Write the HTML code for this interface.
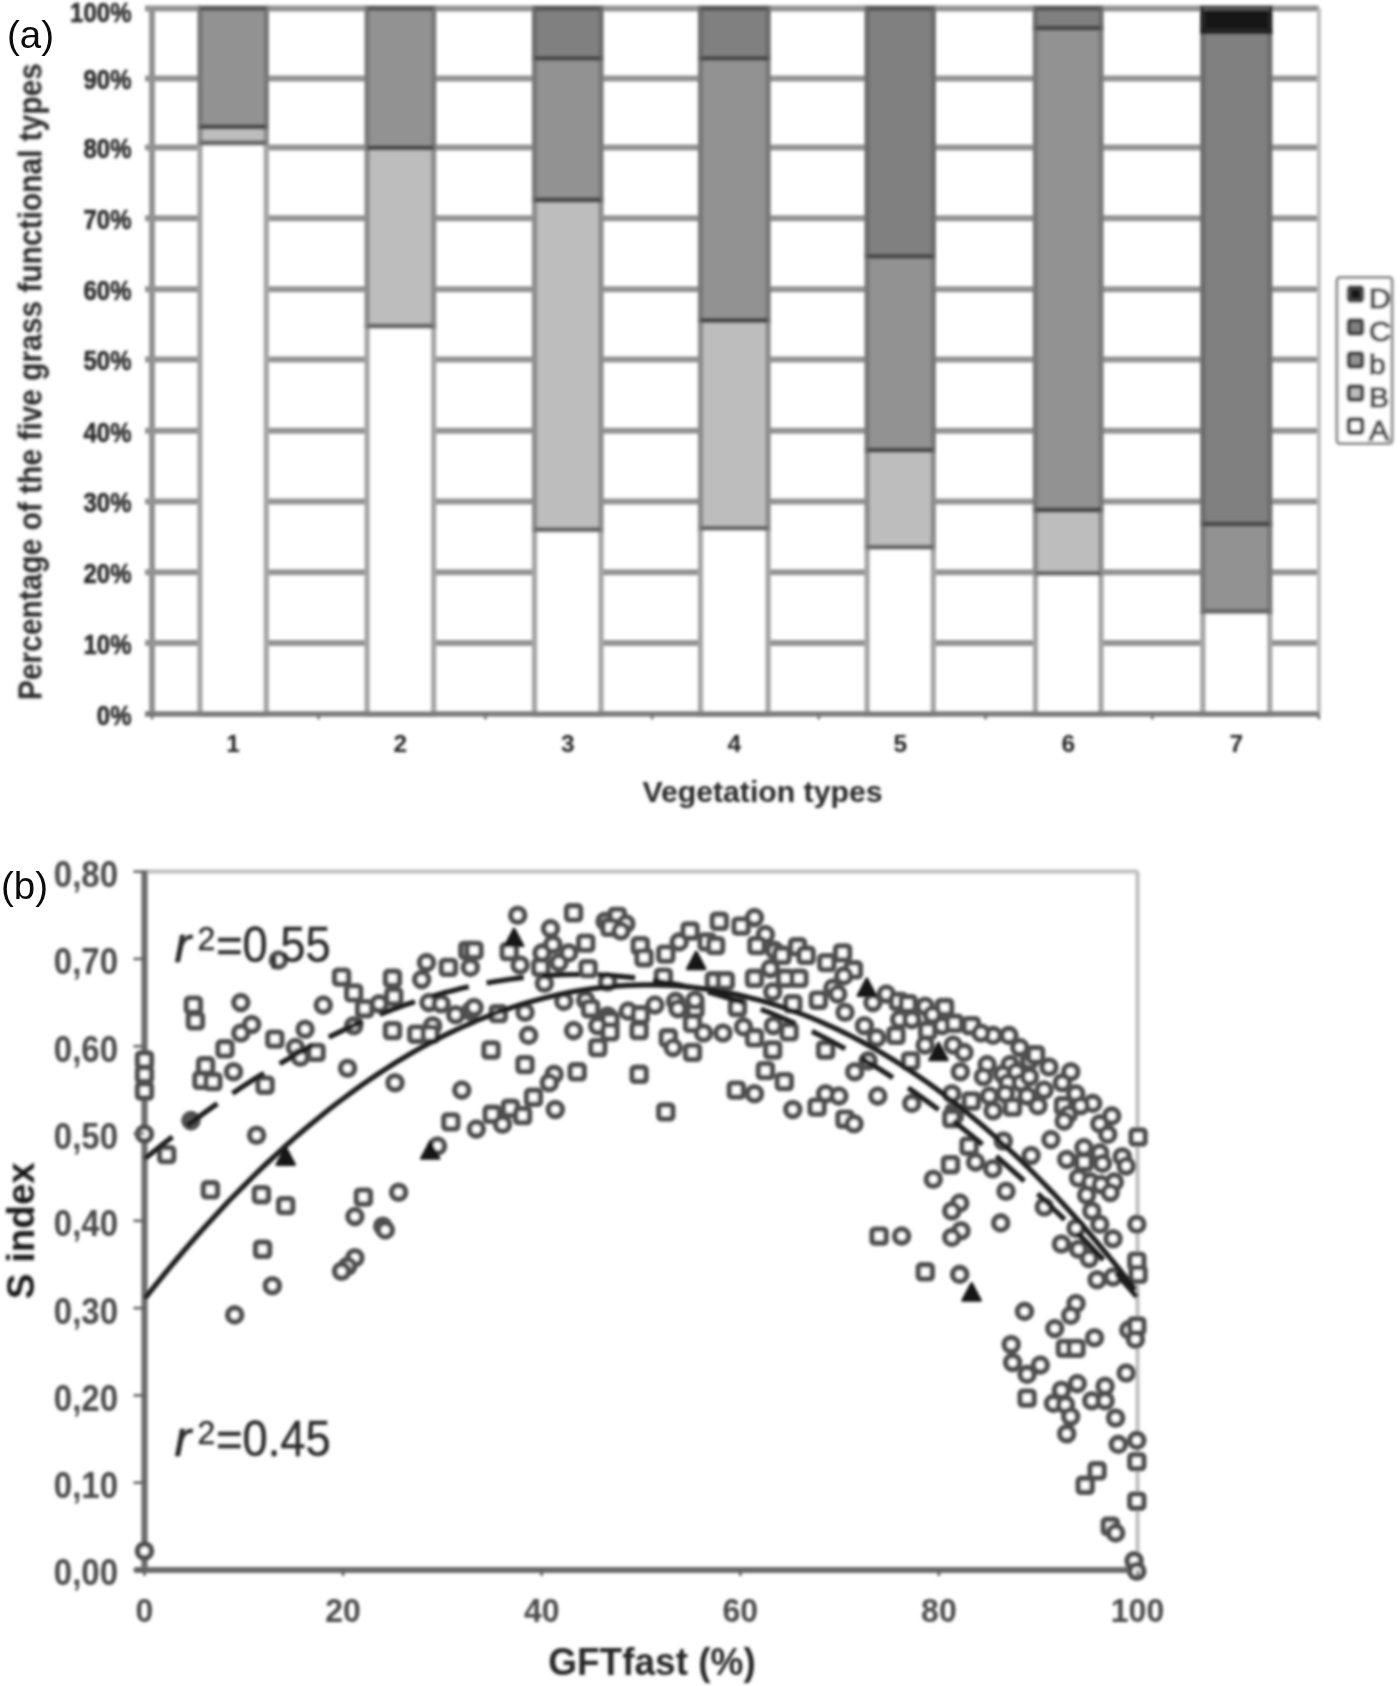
<!DOCTYPE html><html><head><meta charset="utf-8"><style>html,body{margin:0;padding:0;background:#fff;}svg{display:block;}text{font-family:"Liberation Sans",sans-serif;}</style></head><body>
<svg width="1400" height="1686" viewBox="0 0 1400 1686">
<defs><filter id="bl" x="-5%" y="-5%" width="110%" height="110%"><feGaussianBlur stdDeviation="1.6"/></filter></defs>
<rect width="1400" height="1686" fill="#fff"/>
<g filter="url(#bl)">
<line x1="145" y1="643.0" x2="1318.9" y2="643.0" stroke="#939393" stroke-width="6"/>
<line x1="145" y1="572.3" x2="1318.9" y2="572.3" stroke="#939393" stroke-width="6"/>
<line x1="145" y1="501.4" x2="1318.9" y2="501.4" stroke="#939393" stroke-width="6"/>
<line x1="145" y1="430.8" x2="1318.9" y2="430.8" stroke="#939393" stroke-width="6"/>
<line x1="145" y1="359.6" x2="1318.9" y2="359.6" stroke="#939393" stroke-width="6"/>
<line x1="145" y1="289.3" x2="1318.9" y2="289.3" stroke="#939393" stroke-width="6"/>
<line x1="145" y1="218.2" x2="1318.9" y2="218.2" stroke="#939393" stroke-width="6"/>
<line x1="145" y1="147.6" x2="1318.9" y2="147.6" stroke="#939393" stroke-width="6"/>
<line x1="145" y1="78.6" x2="1318.9" y2="78.6" stroke="#939393" stroke-width="6"/>
<line x1="145" y1="8.5" x2="1318.9" y2="8.5" stroke="#939393" stroke-width="6"/>
<line x1="1318.9" y1="8.5" x2="1318.9" y2="714.0" stroke="#bdbdbd" stroke-width="4"/>
<line x1="152" y1="7.5" x2="152" y2="714.0" stroke="#939393" stroke-width="6"/>
<rect x="200.1" y="142.9" width="66.1" height="571.1" fill="#ffffff" stroke="#a6a6a6" stroke-width="5.5"/>
<rect x="200.1" y="126.7" width="66.1" height="16.2" fill="#bdbdbd" stroke="#8e8e8e" stroke-width="5.5"/>
<rect x="200.1" y="8.5" width="66.1" height="118.2" fill="#929292" stroke="#7a7a7a" stroke-width="5.5"/>
<line x1="200.1" y1="142.9" x2="266.2" y2="142.9" stroke="#6a6a6a" stroke-width="4.6"/>
<line x1="200.1" y1="126.7" x2="266.2" y2="126.7" stroke="#4c4c4c" stroke-width="4.6"/>
<line x1="200.1" y1="8.5" x2="266.2" y2="8.5" stroke="#555" stroke-width="3.8"/>
<rect x="367.2" y="326.0" width="66.4" height="388.0" fill="#ffffff" stroke="#a6a6a6" stroke-width="5.5"/>
<rect x="367.2" y="147.8" width="66.4" height="178.2" fill="#bdbdbd" stroke="#8e8e8e" stroke-width="5.5"/>
<rect x="367.2" y="8.5" width="66.4" height="139.3" fill="#929292" stroke="#7a7a7a" stroke-width="5.5"/>
<line x1="367.2" y1="326.0" x2="433.6" y2="326.0" stroke="#6a6a6a" stroke-width="4.6"/>
<line x1="367.2" y1="147.8" x2="433.6" y2="147.8" stroke="#4c4c4c" stroke-width="4.6"/>
<line x1="367.2" y1="8.5" x2="433.6" y2="8.5" stroke="#555" stroke-width="3.8"/>
<rect x="534.6" y="529.6" width="66.3" height="184.4" fill="#ffffff" stroke="#a6a6a6" stroke-width="5.5"/>
<rect x="534.6" y="199.9" width="66.3" height="329.7" fill="#bdbdbd" stroke="#8e8e8e" stroke-width="5.5"/>
<rect x="534.6" y="58.3" width="66.3" height="141.6" fill="#929292" stroke="#7a7a7a" stroke-width="5.5"/>
<rect x="534.6" y="8.5" width="66.3" height="49.8" fill="#808080" stroke="#6e6e6e" stroke-width="5.5"/>
<line x1="534.6" y1="529.6" x2="600.9" y2="529.6" stroke="#6a6a6a" stroke-width="4.6"/>
<line x1="534.6" y1="199.9" x2="600.9" y2="199.9" stroke="#4c4c4c" stroke-width="4.6"/>
<line x1="534.6" y1="58.3" x2="600.9" y2="58.3" stroke="#4c4c4c" stroke-width="4.6"/>
<line x1="534.6" y1="8.5" x2="600.9" y2="8.5" stroke="#555" stroke-width="3.8"/>
<rect x="700.6" y="528.2" width="67.4" height="185.8" fill="#ffffff" stroke="#a6a6a6" stroke-width="5.5"/>
<rect x="700.6" y="320.4" width="67.4" height="207.8" fill="#bdbdbd" stroke="#8e8e8e" stroke-width="5.5"/>
<rect x="700.6" y="58.3" width="67.4" height="262.1" fill="#929292" stroke="#7a7a7a" stroke-width="5.5"/>
<rect x="700.6" y="8.5" width="67.4" height="49.8" fill="#808080" stroke="#6e6e6e" stroke-width="5.5"/>
<line x1="700.6" y1="528.2" x2="768.0" y2="528.2" stroke="#6a6a6a" stroke-width="4.6"/>
<line x1="700.6" y1="320.4" x2="768.0" y2="320.4" stroke="#4c4c4c" stroke-width="4.6"/>
<line x1="700.6" y1="58.3" x2="768.0" y2="58.3" stroke="#4c4c4c" stroke-width="4.6"/>
<line x1="700.6" y1="8.5" x2="768.0" y2="8.5" stroke="#555" stroke-width="3.8"/>
<rect x="867.2" y="547.2" width="66.0" height="166.8" fill="#ffffff" stroke="#a6a6a6" stroke-width="5.5"/>
<rect x="867.2" y="450.0" width="66.0" height="97.2" fill="#bdbdbd" stroke="#8e8e8e" stroke-width="5.5"/>
<rect x="867.2" y="256.3" width="66.0" height="193.7" fill="#929292" stroke="#7a7a7a" stroke-width="5.5"/>
<rect x="867.2" y="8.5" width="66.0" height="247.8" fill="#808080" stroke="#6e6e6e" stroke-width="5.5"/>
<line x1="867.2" y1="547.2" x2="933.2" y2="547.2" stroke="#6a6a6a" stroke-width="4.6"/>
<line x1="867.2" y1="450.0" x2="933.2" y2="450.0" stroke="#4c4c4c" stroke-width="4.6"/>
<line x1="867.2" y1="256.3" x2="933.2" y2="256.3" stroke="#4c4c4c" stroke-width="4.6"/>
<line x1="867.2" y1="8.5" x2="933.2" y2="8.5" stroke="#555" stroke-width="3.8"/>
<rect x="1035.5" y="573.3" width="65.4" height="140.7" fill="#ffffff" stroke="#a6a6a6" stroke-width="5.5"/>
<rect x="1035.5" y="509.9" width="65.4" height="63.4" fill="#bdbdbd" stroke="#8e8e8e" stroke-width="5.5"/>
<rect x="1035.5" y="28.0" width="65.4" height="481.9" fill="#929292" stroke="#7a7a7a" stroke-width="5.5"/>
<rect x="1035.5" y="8.5" width="65.4" height="19.5" fill="#808080" stroke="#6e6e6e" stroke-width="5.5"/>
<line x1="1035.5" y1="573.3" x2="1100.9" y2="573.3" stroke="#6a6a6a" stroke-width="4.6"/>
<line x1="1035.5" y1="509.9" x2="1100.9" y2="509.9" stroke="#4c4c4c" stroke-width="4.6"/>
<line x1="1035.5" y1="28.0" x2="1100.9" y2="28.0" stroke="#4c4c4c" stroke-width="4.6"/>
<line x1="1035.5" y1="8.5" x2="1100.9" y2="8.5" stroke="#555" stroke-width="3.8"/>
<rect x="1202.9" y="611.3" width="66.8" height="102.7" fill="#ffffff" stroke="#a6a6a6" stroke-width="5.5"/>
<rect x="1202.9" y="524.0" width="66.8" height="87.4" fill="#929292" stroke="#7a7a7a" stroke-width="5.5"/>
<rect x="1202.9" y="31.5" width="66.8" height="492.4" fill="#808080" stroke="#6e6e6e" stroke-width="5.5"/>
<rect x="1202.9" y="8.5" width="66.8" height="23.0" fill="#181818" stroke="#222" stroke-width="5.5"/>
<line x1="1202.9" y1="611.3" x2="1269.7" y2="611.3" stroke="#6a6a6a" stroke-width="4.6"/>
<line x1="1202.9" y1="524.0" x2="1269.7" y2="524.0" stroke="#4c4c4c" stroke-width="4.6"/>
<line x1="1202.9" y1="8.5" x2="1269.7" y2="8.5" stroke="#555" stroke-width="3.8"/>
<line x1="145" y1="714.0" x2="1318.9" y2="714.0" stroke="#7a7a7a" stroke-width="5.5"/>
<line x1="152.0" y1="714.0" x2="152.0" y2="719.5" stroke="#707070" stroke-width="2.5"/>
<line x1="318.7" y1="714.0" x2="318.7" y2="719.5" stroke="#707070" stroke-width="2.5"/>
<line x1="485.4" y1="714.0" x2="485.4" y2="719.5" stroke="#707070" stroke-width="2.5"/>
<line x1="652.1" y1="714.0" x2="652.1" y2="719.5" stroke="#707070" stroke-width="2.5"/>
<line x1="818.8" y1="714.0" x2="818.8" y2="719.5" stroke="#707070" stroke-width="2.5"/>
<line x1="985.5" y1="714.0" x2="985.5" y2="719.5" stroke="#707070" stroke-width="2.5"/>
<line x1="1152.2" y1="714.0" x2="1152.2" y2="719.5" stroke="#707070" stroke-width="2.5"/>
<line x1="1318.9" y1="714.0" x2="1318.9" y2="719.5" stroke="#707070" stroke-width="2.5"/>
<text x="131.5" y="724.7" font-size="27" font-weight="bold" text-anchor="end" fill="#2a2a2a" textLength="34.7" lengthAdjust="spacingAndGlyphs" stroke="#2a2a2a" stroke-width="0.6">0%</text>
<text x="131.5" y="653.7" font-size="27" font-weight="bold" text-anchor="end" fill="#2a2a2a" textLength="48.0" lengthAdjust="spacingAndGlyphs" stroke="#2a2a2a" stroke-width="0.6">10%</text>
<text x="131.5" y="583.0" font-size="27" font-weight="bold" text-anchor="end" fill="#2a2a2a" textLength="48.0" lengthAdjust="spacingAndGlyphs" stroke="#2a2a2a" stroke-width="0.6">20%</text>
<text x="131.5" y="512.1" font-size="27" font-weight="bold" text-anchor="end" fill="#2a2a2a" textLength="48.0" lengthAdjust="spacingAndGlyphs" stroke="#2a2a2a" stroke-width="0.6">30%</text>
<text x="131.5" y="441.5" font-size="27" font-weight="bold" text-anchor="end" fill="#2a2a2a" textLength="48.0" lengthAdjust="spacingAndGlyphs" stroke="#2a2a2a" stroke-width="0.6">40%</text>
<text x="131.5" y="370.3" font-size="27" font-weight="bold" text-anchor="end" fill="#2a2a2a" textLength="48.0" lengthAdjust="spacingAndGlyphs" stroke="#2a2a2a" stroke-width="0.6">50%</text>
<text x="131.5" y="300.0" font-size="27" font-weight="bold" text-anchor="end" fill="#2a2a2a" textLength="48.0" lengthAdjust="spacingAndGlyphs" stroke="#2a2a2a" stroke-width="0.6">60%</text>
<text x="131.5" y="228.9" font-size="27" font-weight="bold" text-anchor="end" fill="#2a2a2a" textLength="48.0" lengthAdjust="spacingAndGlyphs" stroke="#2a2a2a" stroke-width="0.6">70%</text>
<text x="131.5" y="158.3" font-size="27" font-weight="bold" text-anchor="end" fill="#2a2a2a" textLength="48.0" lengthAdjust="spacingAndGlyphs" stroke="#2a2a2a" stroke-width="0.6">80%</text>
<text x="131.5" y="89.3" font-size="27" font-weight="bold" text-anchor="end" fill="#2a2a2a" textLength="48.0" lengthAdjust="spacingAndGlyphs" stroke="#2a2a2a" stroke-width="0.6">90%</text>
<text x="131.5" y="21.5" font-size="27" font-weight="bold" text-anchor="end" fill="#2a2a2a" textLength="61.4" lengthAdjust="spacingAndGlyphs" stroke="#2a2a2a" stroke-width="0.6">100%</text>
<text x="233.1" y="751.5" font-size="24.5" font-weight="bold" text-anchor="middle" fill="#222">1</text>
<text x="400.4" y="751.5" font-size="24.5" font-weight="bold" text-anchor="middle" fill="#222">2</text>
<text x="567.8" y="751.5" font-size="24.5" font-weight="bold" text-anchor="middle" fill="#222">3</text>
<text x="734.3" y="751.5" font-size="24.5" font-weight="bold" text-anchor="middle" fill="#222">4</text>
<text x="900.2" y="751.5" font-size="24.5" font-weight="bold" text-anchor="middle" fill="#222">5</text>
<text x="1068.2" y="751.5" font-size="24.5" font-weight="bold" text-anchor="middle" fill="#222">6</text>
<text x="1236.3" y="751.5" font-size="24.5" font-weight="bold" text-anchor="middle" fill="#222">7</text>
<text x="762.5" y="801.5" font-size="30" font-weight="bold" text-anchor="middle" fill="#262626" textLength="240.0" lengthAdjust="spacingAndGlyphs">Vegetation types</text>
<text transform="translate(41.5,381.6) rotate(-90)" x="0" y="0" font-size="33" font-weight="bold" text-anchor="middle" fill="#262626" textLength="637" lengthAdjust="spacingAndGlyphs">Percentage of the five grass functional types</text>
<rect x="1337" y="277.5" width="55" height="166" rx="3" fill="#fff" stroke="#8a8a8a" stroke-width="3"/>
<rect x="1348.8" y="287.3" width="13.4" height="13.4" rx="2" fill="#181818" stroke="#464646" stroke-width="4.4"/>
<text x="1369.0" y="307.5" font-size="28" fill="#505050" textLength="21.7" lengthAdjust="spacingAndGlyphs" stroke="#505050" stroke-width="1.5">D</text>
<rect x="1348.8" y="320.3" width="13.4" height="13.4" rx="2" fill="#808080" stroke="#464646" stroke-width="4.4"/>
<text x="1369.0" y="340.5" font-size="28" fill="#505050" textLength="21.7" lengthAdjust="spacingAndGlyphs" stroke="#505050" stroke-width="1.5">C</text>
<rect x="1348.8" y="353.3" width="13.4" height="13.4" rx="2" fill="#929292" stroke="#464646" stroke-width="4.4"/>
<text x="1369.0" y="373.5" font-size="28" fill="#505050" textLength="16.7" lengthAdjust="spacingAndGlyphs" stroke="#505050" stroke-width="1.5">b</text>
<rect x="1348.8" y="386.3" width="13.4" height="13.4" rx="2" fill="#bdbdbd" stroke="#464646" stroke-width="4.4"/>
<text x="1369.0" y="406.5" font-size="28" fill="#505050" textLength="20.0" lengthAdjust="spacingAndGlyphs" stroke="#505050" stroke-width="1.5">B</text>
<rect x="1348.8" y="419.3" width="13.4" height="13.4" rx="2" fill="#ffffff" stroke="#464646" stroke-width="4.4"/>
<text x="1369.0" y="439.5" font-size="28" fill="#505050" textLength="20.0" lengthAdjust="spacingAndGlyphs" stroke="#505050" stroke-width="1.5">A</text>
<line x1="144.5" y1="871.6" x2="1137.5" y2="871.6" stroke="#bdbdbd" stroke-width="4"/>
<line x1="1137.5" y1="871.6" x2="1137.5" y2="1570" stroke="#bdbdbd" stroke-width="4"/>
<line x1="144.5" y1="870.6" x2="144.5" y2="1570" stroke="#6a6a6a" stroke-width="6.2"/>
<line x1="134.5" y1="1570" x2="1137.5" y2="1570" stroke="#6a6a6a" stroke-width="6.2"/>
<circle cx="278.4" cy="960.1" r="6.9" fill="#fff" stroke="#505050" stroke-width="5.8"/>
<rect x="186.5" y="998.2" width="13.8" height="13.8" rx="2.5" fill="#fff" stroke="#505050" stroke-width="5.6"/>
<rect x="188.5" y="1013.9" width="13.8" height="13.8" rx="2.5" fill="#fff" stroke="#505050" stroke-width="5.6"/>
<circle cx="240.8" cy="1002.6" r="6.9" fill="#fff" stroke="#505050" stroke-width="5.8"/>
<circle cx="251.7" cy="1024.5" r="6.9" fill="#fff" stroke="#505050" stroke-width="5.8"/>
<circle cx="240.8" cy="1033.0" r="6.9" fill="#fff" stroke="#505050" stroke-width="5.8"/>
<rect x="218.1" y="1041.8999999999999" width="13.8" height="13.8" rx="2.5" fill="#fff" stroke="#505050" stroke-width="5.6"/>
<rect x="198.7" y="1058.8999999999999" width="13.8" height="13.8" rx="2.5" fill="#fff" stroke="#505050" stroke-width="5.6"/>
<rect x="195.0" y="1073.3999999999999" width="13.8" height="13.8" rx="2.5" fill="#fff" stroke="#505050" stroke-width="5.6"/>
<rect x="206.0" y="1074.6999999999998" width="13.8" height="13.8" rx="2.5" fill="#fff" stroke="#505050" stroke-width="5.6"/>
<circle cx="233.5" cy="1071.8" r="6.9" fill="#fff" stroke="#505050" stroke-width="5.8"/>
<rect x="258.20000000000005" y="1078.3" width="13.8" height="13.8" rx="2.5" fill="#fff" stroke="#505050" stroke-width="5.6"/>
<rect x="267.90000000000003" y="1032.1999999999998" width="13.8" height="13.8" rx="2.5" fill="#fff" stroke="#505050" stroke-width="5.6"/>
<circle cx="305.1" cy="1029.3" r="6.9" fill="#fff" stroke="#505050" stroke-width="5.8"/>
<circle cx="295.4" cy="1047.6" r="6.9" fill="#fff" stroke="#505050" stroke-width="5.8"/>
<circle cx="300.3" cy="1057.3" r="6.9" fill="#fff" stroke="#505050" stroke-width="5.8"/>
<rect x="309.20000000000005" y="1045.5" width="13.8" height="13.8" rx="2.5" fill="#fff" stroke="#505050" stroke-width="5.6"/>
<circle cx="323.3" cy="1005.1" r="6.9" fill="#fff" stroke="#505050" stroke-width="5.8"/>
<rect x="334.70000000000005" y="970.2" width="13.8" height="13.8" rx="2.5" fill="#fff" stroke="#505050" stroke-width="5.6"/>
<rect x="346.8" y="986.0" width="13.8" height="13.8" rx="2.5" fill="#fff" stroke="#505050" stroke-width="5.6"/>
<rect x="357.70000000000005" y="1001.8000000000001" width="13.8" height="13.8" rx="2.5" fill="#fff" stroke="#505050" stroke-width="5.6"/>
<circle cx="353.7" cy="1025.7" r="6.9" fill="#fff" stroke="#505050" stroke-width="5.8"/>
<circle cx="347.6" cy="1068.2" r="6.9" fill="#fff" stroke="#505050" stroke-width="5.8"/>
<circle cx="379.2" cy="1003.8" r="6.9" fill="#fff" stroke="#505050" stroke-width="5.8"/>
<rect x="385.6" y="971.4" width="13.8" height="13.8" rx="2.5" fill="#fff" stroke="#505050" stroke-width="5.6"/>
<rect x="386.90000000000003" y="989.7" width="13.8" height="13.8" rx="2.5" fill="#fff" stroke="#505050" stroke-width="5.6"/>
<rect x="385.6" y="1023.6999999999999" width="13.8" height="13.8" rx="2.5" fill="#fff" stroke="#505050" stroke-width="5.6"/>
<circle cx="395.0" cy="1082.8" r="6.9" fill="#fff" stroke="#505050" stroke-width="5.8"/>
<circle cx="426.5" cy="962.6" r="6.9" fill="#fff" stroke="#505050" stroke-width="5.8"/>
<circle cx="421.7" cy="979.6" r="6.9" fill="#fff" stroke="#505050" stroke-width="5.8"/>
<rect x="441.5" y="960.5" width="13.8" height="13.8" rx="2.5" fill="#fff" stroke="#505050" stroke-width="5.6"/>
<circle cx="429.0" cy="1002.6" r="6.9" fill="#fff" stroke="#505050" stroke-width="5.8"/>
<circle cx="441.1" cy="1003.8" r="6.9" fill="#fff" stroke="#505050" stroke-width="5.8"/>
<rect x="409.90000000000003" y="1027.3" width="13.8" height="13.8" rx="2.5" fill="#fff" stroke="#505050" stroke-width="5.6"/>
<circle cx="432.6" cy="1025.7" r="6.9" fill="#fff" stroke="#505050" stroke-width="5.8"/>
<rect x="423.3" y="1027.3" width="13.8" height="13.8" rx="2.5" fill="#fff" stroke="#505050" stroke-width="5.6"/>
<circle cx="455.7" cy="1014.8" r="6.9" fill="#fff" stroke="#505050" stroke-width="5.8"/>
<circle cx="470.3" cy="1011.1" r="6.9" fill="#fff" stroke="#505050" stroke-width="5.8"/>
<rect x="460.90000000000003" y="943.5" width="13.8" height="13.8" rx="2.5" fill="#fff" stroke="#505050" stroke-width="5.6"/>
<circle cx="470.3" cy="967.4" r="6.9" fill="#fff" stroke="#505050" stroke-width="5.8"/>
<circle cx="461.8" cy="1090.1" r="6.9" fill="#fff" stroke="#505050" stroke-width="5.8"/>
<rect x="137.6" y="1053.1" width="13.8" height="13.8" rx="2.5" fill="#fff" stroke="#505050" stroke-width="5.6"/>
<rect x="137.6" y="1067.6" width="13.8" height="13.8" rx="2.5" fill="#fff" stroke="#505050" stroke-width="5.6"/>
<rect x="137.6" y="1084.1" width="13.8" height="13.8" rx="2.5" fill="#fff" stroke="#505050" stroke-width="5.6"/>
<circle cx="144.5" cy="1134" r="6.9" fill="#fff" stroke="#505050" stroke-width="5.8"/>
<circle cx="517.7" cy="915.2" r="6.9" fill="#fff" stroke="#505050" stroke-width="5.8"/>
<rect x="566.7" y="905.9" width="13.8" height="13.8" rx="2.5" fill="#fff" stroke="#505050" stroke-width="5.6"/>
<circle cx="550.5" cy="928.6" r="6.9" fill="#fff" stroke="#505050" stroke-width="5.8"/>
<circle cx="605.1" cy="921.3" r="6.9" fill="#fff" stroke="#505050" stroke-width="5.8"/>
<rect x="610.4" y="909.5" width="13.8" height="13.8" rx="2.5" fill="#fff" stroke="#505050" stroke-width="5.6"/>
<circle cx="625.8" cy="923.7" r="6.9" fill="#fff" stroke="#505050" stroke-width="5.8"/>
<rect x="603.1" y="920.5" width="13.8" height="13.8" rx="2.5" fill="#fff" stroke="#505050" stroke-width="5.6"/>
<circle cx="620.9" cy="931.0" r="6.9" fill="#fff" stroke="#505050" stroke-width="5.8"/>
<rect x="712.4" y="914.4" width="13.8" height="13.8" rx="2.5" fill="#fff" stroke="#505050" stroke-width="5.6"/>
<rect x="734.2" y="919.2" width="13.8" height="13.8" rx="2.5" fill="#fff" stroke="#505050" stroke-width="5.6"/>
<circle cx="754.5" cy="917.6" r="6.9" fill="#fff" stroke="#505050" stroke-width="5.8"/>
<circle cx="765.4" cy="934.6" r="6.9" fill="#fff" stroke="#505050" stroke-width="5.8"/>
<rect x="750.0" y="938.7" width="13.8" height="13.8" rx="2.5" fill="#fff" stroke="#505050" stroke-width="5.6"/>
<rect x="683.2" y="924.1" width="13.8" height="13.8" rx="2.5" fill="#fff" stroke="#505050" stroke-width="5.6"/>
<circle cx="679.2" cy="941.9" r="6.9" fill="#fff" stroke="#505050" stroke-width="5.8"/>
<rect x="633.4" y="938.7" width="13.8" height="13.8" rx="2.5" fill="#fff" stroke="#505050" stroke-width="5.6"/>
<rect x="637.1" y="950.8000000000001" width="13.8" height="13.8" rx="2.5" fill="#fff" stroke="#505050" stroke-width="5.6"/>
<rect x="658.9" y="947.2" width="13.8" height="13.8" rx="2.5" fill="#fff" stroke="#505050" stroke-width="5.6"/>
<rect x="700.2" y="935.0" width="13.8" height="13.8" rx="2.5" fill="#fff" stroke="#505050" stroke-width="5.6"/>
<rect x="708.7" y="938.7" width="13.8" height="13.8" rx="2.5" fill="#fff" stroke="#505050" stroke-width="5.6"/>
<rect x="578.8000000000001" y="936.2" width="13.8" height="13.8" rx="2.5" fill="#fff" stroke="#505050" stroke-width="5.6"/>
<circle cx="552.9" cy="944.4" r="6.9" fill="#fff" stroke="#505050" stroke-width="5.8"/>
<circle cx="542.0" cy="952.9" r="6.9" fill="#fff" stroke="#505050" stroke-width="5.8"/>
<rect x="533.9" y="960.5" width="13.8" height="13.8" rx="2.5" fill="#fff" stroke="#505050" stroke-width="5.6"/>
<circle cx="559.0" cy="962.6" r="6.9" fill="#fff" stroke="#505050" stroke-width="5.8"/>
<circle cx="568.7" cy="952.9" r="6.9" fill="#fff" stroke="#505050" stroke-width="5.8"/>
<rect x="581.2" y="961.7" width="13.8" height="13.8" rx="2.5" fill="#fff" stroke="#505050" stroke-width="5.6"/>
<circle cx="520.1" cy="965.0" r="6.9" fill="#fff" stroke="#505050" stroke-width="5.8"/>
<rect x="502.3" y="944.7" width="13.8" height="13.8" rx="2.5" fill="#fff" stroke="#505050" stroke-width="5.6"/>
<rect x="467.1" y="943.5" width="13.8" height="13.8" rx="2.5" fill="#fff" stroke="#505050" stroke-width="5.6"/>
<circle cx="544.4" cy="983.2" r="6.9" fill="#fff" stroke="#505050" stroke-width="5.8"/>
<rect x="707.5" y="973.9" width="13.8" height="13.8" rx="2.5" fill="#fff" stroke="#505050" stroke-width="5.6"/>
<rect x="718.4" y="973.9" width="13.8" height="13.8" rx="2.5" fill="#fff" stroke="#505050" stroke-width="5.6"/>
<rect x="747.6" y="971.4" width="13.8" height="13.8" rx="2.5" fill="#fff" stroke="#505050" stroke-width="5.6"/>
<circle cx="770.3" cy="968.6" r="6.9" fill="#fff" stroke="#505050" stroke-width="5.8"/>
<circle cx="772.7" cy="991.7" r="6.9" fill="#fff" stroke="#505050" stroke-width="5.8"/>
<circle cx="607.6" cy="982.0" r="6.9" fill="#fff" stroke="#505050" stroke-width="5.8"/>
<rect x="656.5" y="970.2" width="13.8" height="13.8" rx="2.5" fill="#fff" stroke="#505050" stroke-width="5.6"/>
<circle cx="563.8" cy="1001.4" r="6.9" fill="#fff" stroke="#505050" stroke-width="5.8"/>
<circle cx="585.7" cy="1000.2" r="6.9" fill="#fff" stroke="#505050" stroke-width="5.8"/>
<rect x="583.7" y="1001.8000000000001" width="13.8" height="13.8" rx="2.5" fill="#fff" stroke="#505050" stroke-width="5.6"/>
<circle cx="525.0" cy="1012.3" r="6.9" fill="#fff" stroke="#505050" stroke-width="5.8"/>
<rect x="491.40000000000003" y="1006.7" width="13.8" height="13.8" rx="2.5" fill="#fff" stroke="#505050" stroke-width="5.6"/>
<circle cx="474.0" cy="1007.5" r="6.9" fill="#fff" stroke="#505050" stroke-width="5.8"/>
<circle cx="654.9" cy="1005.1" r="6.9" fill="#fff" stroke="#505050" stroke-width="5.8"/>
<circle cx="628.2" cy="1011.1" r="6.9" fill="#fff" stroke="#505050" stroke-width="5.8"/>
<rect x="633.4" y="1007.9" width="13.8" height="13.8" rx="2.5" fill="#fff" stroke="#505050" stroke-width="5.6"/>
<circle cx="675.6" cy="1001.4" r="6.9" fill="#fff" stroke="#505050" stroke-width="5.8"/>
<circle cx="678.0" cy="1008.7" r="6.9" fill="#fff" stroke="#505050" stroke-width="5.8"/>
<rect x="688.1" y="1001.8000000000001" width="13.8" height="13.8" rx="2.5" fill="#fff" stroke="#505050" stroke-width="5.6"/>
<circle cx="695.0" cy="1000.2" r="6.9" fill="#fff" stroke="#505050" stroke-width="5.8"/>
<rect x="730.6" y="1000.6" width="13.8" height="13.8" rx="2.5" fill="#fff" stroke="#505050" stroke-width="5.6"/>
<circle cx="607.6" cy="1016.0" r="6.9" fill="#fff" stroke="#505050" stroke-width="5.8"/>
<rect x="603.1" y="1013.9" width="13.8" height="13.8" rx="2.5" fill="#fff" stroke="#505050" stroke-width="5.6"/>
<circle cx="597.8" cy="1025.7" r="6.9" fill="#fff" stroke="#505050" stroke-width="5.8"/>
<rect x="603.1" y="1024.8999999999999" width="13.8" height="13.8" rx="2.5" fill="#fff" stroke="#505050" stroke-width="5.6"/>
<circle cx="573.6" cy="1030.6" r="6.9" fill="#fff" stroke="#505050" stroke-width="5.8"/>
<circle cx="528.6" cy="1035.4" r="6.9" fill="#fff" stroke="#505050" stroke-width="5.8"/>
<rect x="632.2" y="1023.6999999999999" width="13.8" height="13.8" rx="2.5" fill="#fff" stroke="#505050" stroke-width="5.6"/>
<rect x="661.4" y="1030.8999999999999" width="13.8" height="13.8" rx="2.5" fill="#fff" stroke="#505050" stroke-width="5.6"/>
<circle cx="673.1" cy="1047.6" r="6.9" fill="#fff" stroke="#505050" stroke-width="5.8"/>
<rect x="685.6" y="1016.4" width="13.8" height="13.8" rx="2.5" fill="#fff" stroke="#505050" stroke-width="5.6"/>
<circle cx="703.5" cy="1033.0" r="6.9" fill="#fff" stroke="#505050" stroke-width="5.8"/>
<circle cx="722.9" cy="1033.0" r="6.9" fill="#fff" stroke="#505050" stroke-width="5.8"/>
<circle cx="743.5" cy="1026.9" r="6.9" fill="#fff" stroke="#505050" stroke-width="5.8"/>
<rect x="747.6" y="1030.8999999999999" width="13.8" height="13.8" rx="2.5" fill="#fff" stroke="#505050" stroke-width="5.6"/>
<rect x="765.8000000000001" y="1043.1" width="13.8" height="13.8" rx="2.5" fill="#fff" stroke="#505050" stroke-width="5.6"/>
<rect x="590.9" y="1040.6999999999998" width="13.8" height="13.8" rx="2.5" fill="#fff" stroke="#505050" stroke-width="5.6"/>
<rect x="685.6" y="1045.5" width="13.8" height="13.8" rx="2.5" fill="#fff" stroke="#505050" stroke-width="5.6"/>
<rect x="484.1" y="1043.1" width="13.8" height="13.8" rx="2.5" fill="#fff" stroke="#505050" stroke-width="5.6"/>
<rect x="518.1" y="1057.6999999999998" width="13.8" height="13.8" rx="2.5" fill="#fff" stroke="#505050" stroke-width="5.6"/>
<rect x="570.3000000000001" y="1064.8999999999999" width="13.8" height="13.8" rx="2.5" fill="#fff" stroke="#505050" stroke-width="5.6"/>
<circle cx="554.1" cy="1074.3" r="6.9" fill="#fff" stroke="#505050" stroke-width="5.8"/>
<circle cx="549.3" cy="1082.8" r="6.9" fill="#fff" stroke="#505050" stroke-width="5.8"/>
<rect x="632.2" y="1067.3999999999999" width="13.8" height="13.8" rx="2.5" fill="#fff" stroke="#505050" stroke-width="5.6"/>
<rect x="526.6" y="1090.3999999999999" width="13.8" height="13.8" rx="2.5" fill="#fff" stroke="#505050" stroke-width="5.6"/>
<circle cx="555.3" cy="1109.5" r="6.9" fill="#fff" stroke="#505050" stroke-width="5.8"/>
<rect x="503.5" y="1101.3999999999999" width="13.8" height="13.8" rx="2.5" fill="#fff" stroke="#505050" stroke-width="5.6"/>
<rect x="485.3" y="1107.3999999999999" width="13.8" height="13.8" rx="2.5" fill="#fff" stroke="#505050" stroke-width="5.6"/>
<rect x="515.7" y="1108.6999999999998" width="13.8" height="13.8" rx="2.5" fill="#fff" stroke="#505050" stroke-width="5.6"/>
<rect x="658.9" y="1105.0" width="13.8" height="13.8" rx="2.5" fill="#fff" stroke="#505050" stroke-width="5.6"/>
<rect x="729.4" y="1083.1999999999998" width="13.8" height="13.8" rx="2.5" fill="#fff" stroke="#505050" stroke-width="5.6"/>
<circle cx="754.5" cy="1093.7" r="6.9" fill="#fff" stroke="#505050" stroke-width="5.8"/>
<rect x="758.5" y="1063.6999999999998" width="13.8" height="13.8" rx="2.5" fill="#fff" stroke="#505050" stroke-width="5.6"/>
<circle cx="774.6" cy="950.4" r="6.9" fill="#fff" stroke="#505050" stroke-width="5.8"/>
<circle cx="773.4" cy="1025.7" r="6.9" fill="#fff" stroke="#505050" stroke-width="5.8"/>
<rect x="790.7" y="939.9" width="13.8" height="13.8" rx="2.5" fill="#fff" stroke="#505050" stroke-width="5.6"/>
<rect x="799.2" y="948.4" width="13.8" height="13.8" rx="2.5" fill="#fff" stroke="#505050" stroke-width="5.6"/>
<rect x="775.0" y="948.4" width="13.8" height="13.8" rx="2.5" fill="#fff" stroke="#505050" stroke-width="5.6"/>
<rect x="819.9" y="955.7" width="13.8" height="13.8" rx="2.5" fill="#fff" stroke="#505050" stroke-width="5.6"/>
<rect x="835.7" y="946.0" width="13.8" height="13.8" rx="2.5" fill="#fff" stroke="#505050" stroke-width="5.6"/>
<rect x="846.6" y="962.9" width="13.8" height="13.8" rx="2.5" fill="#fff" stroke="#505050" stroke-width="5.6"/>
<circle cx="843.8" cy="975.9" r="6.9" fill="#fff" stroke="#505050" stroke-width="5.8"/>
<rect x="778.6" y="971.4" width="13.8" height="13.8" rx="2.5" fill="#fff" stroke="#505050" stroke-width="5.6"/>
<rect x="792.0" y="971.4" width="13.8" height="13.8" rx="2.5" fill="#fff" stroke="#505050" stroke-width="5.6"/>
<circle cx="832.9" cy="988.1" r="6.9" fill="#fff" stroke="#505050" stroke-width="5.8"/>
<circle cx="837.7" cy="994.1" r="6.9" fill="#fff" stroke="#505050" stroke-width="5.8"/>
<rect x="811.4" y="993.3000000000001" width="13.8" height="13.8" rx="2.5" fill="#fff" stroke="#505050" stroke-width="5.6"/>
<rect x="785.9" y="996.9" width="13.8" height="13.8" rx="2.5" fill="#fff" stroke="#505050" stroke-width="5.6"/>
<circle cx="845.0" cy="1012.3" r="6.9" fill="#fff" stroke="#505050" stroke-width="5.8"/>
<circle cx="872.9" cy="1002.6" r="6.9" fill="#fff" stroke="#505050" stroke-width="5.8"/>
<circle cx="886.3" cy="994.1" r="6.9" fill="#fff" stroke="#505050" stroke-width="5.8"/>
<rect x="891.5" y="994.5" width="13.8" height="13.8" rx="2.5" fill="#fff" stroke="#505050" stroke-width="5.6"/>
<rect x="901.2" y="996.9" width="13.8" height="13.8" rx="2.5" fill="#fff" stroke="#505050" stroke-width="5.6"/>
<circle cx="925.1" cy="1006.3" r="6.9" fill="#fff" stroke="#505050" stroke-width="5.8"/>
<rect x="937.7" y="1000.6" width="13.8" height="13.8" rx="2.5" fill="#fff" stroke="#505050" stroke-width="5.6"/>
<circle cx="932.4" cy="1014.8" r="6.9" fill="#fff" stroke="#505050" stroke-width="5.8"/>
<circle cx="899.6" cy="1019.6" r="6.9" fill="#fff" stroke="#505050" stroke-width="5.8"/>
<circle cx="911.8" cy="1019.6" r="6.9" fill="#fff" stroke="#505050" stroke-width="5.8"/>
<circle cx="864.4" cy="1025.7" r="6.9" fill="#fff" stroke="#505050" stroke-width="5.8"/>
<circle cx="876.6" cy="1037.8" r="6.9" fill="#fff" stroke="#505050" stroke-width="5.8"/>
<rect x="889.1" y="1028.5" width="13.8" height="13.8" rx="2.5" fill="#fff" stroke="#505050" stroke-width="5.6"/>
<rect x="920.7" y="1023.6999999999999" width="13.8" height="13.8" rx="2.5" fill="#fff" stroke="#505050" stroke-width="5.6"/>
<circle cx="942.1" cy="1025.7" r="6.9" fill="#fff" stroke="#505050" stroke-width="5.8"/>
<rect x="947.4" y="1016.4" width="13.8" height="13.8" rx="2.5" fill="#fff" stroke="#505050" stroke-width="5.6"/>
<rect x="964.4" y="1018.8000000000001" width="13.8" height="13.8" rx="2.5" fill="#fff" stroke="#505050" stroke-width="5.6"/>
<circle cx="925.1" cy="1045.1" r="6.9" fill="#fff" stroke="#505050" stroke-width="5.8"/>
<circle cx="953.1" cy="1045.1" r="6.9" fill="#fff" stroke="#505050" stroke-width="5.8"/>
<circle cx="964.0" cy="1052.4" r="6.9" fill="#fff" stroke="#505050" stroke-width="5.8"/>
<circle cx="993.1" cy="1035.4" r="6.9" fill="#fff" stroke="#505050" stroke-width="5.8"/>
<circle cx="1008.9" cy="1035.4" r="6.9" fill="#fff" stroke="#505050" stroke-width="5.8"/>
<circle cx="1019.8" cy="1047.6" r="6.9" fill="#fff" stroke="#505050" stroke-width="5.8"/>
<circle cx="981.0" cy="1033.0" r="6.9" fill="#fff" stroke="#505050" stroke-width="5.8"/>
<circle cx="1029.5" cy="1060.9" r="6.9" fill="#fff" stroke="#505050" stroke-width="5.8"/>
<rect x="1028.6999999999998" y="1047.8999999999999" width="13.8" height="13.8" rx="2.5" fill="#fff" stroke="#505050" stroke-width="5.6"/>
<circle cx="1049.0" cy="1067.0" r="6.9" fill="#fff" stroke="#505050" stroke-width="5.8"/>
<circle cx="987.1" cy="1064.6" r="6.9" fill="#fff" stroke="#505050" stroke-width="5.8"/>
<circle cx="1010.1" cy="1064.6" r="6.9" fill="#fff" stroke="#505050" stroke-width="5.8"/>
<circle cx="960.3" cy="1071.8" r="6.9" fill="#fff" stroke="#505050" stroke-width="5.8"/>
<circle cx="983.4" cy="1076.7" r="6.9" fill="#fff" stroke="#505050" stroke-width="5.8"/>
<circle cx="1002.8" cy="1074.3" r="6.9" fill="#fff" stroke="#505050" stroke-width="5.8"/>
<circle cx="1016.2" cy="1071.8" r="6.9" fill="#fff" stroke="#505050" stroke-width="5.8"/>
<circle cx="1007.7" cy="1082.8" r="6.9" fill="#fff" stroke="#505050" stroke-width="5.8"/>
<circle cx="1021.0" cy="1082.8" r="6.9" fill="#fff" stroke="#505050" stroke-width="5.8"/>
<circle cx="1029.5" cy="1076.7" r="6.9" fill="#fff" stroke="#505050" stroke-width="5.8"/>
<circle cx="1044.1" cy="1090.1" r="6.9" fill="#fff" stroke="#505050" stroke-width="5.8"/>
<circle cx="1062.3" cy="1082.8" r="6.9" fill="#fff" stroke="#505050" stroke-width="5.8"/>
<circle cx="1070.8" cy="1071.8" r="6.9" fill="#fff" stroke="#505050" stroke-width="5.8"/>
<circle cx="1075.7" cy="1093.7" r="6.9" fill="#fff" stroke="#505050" stroke-width="5.8"/>
<circle cx="1092.7" cy="1103.4" r="6.9" fill="#fff" stroke="#505050" stroke-width="5.8"/>
<circle cx="989.5" cy="1096.1" r="6.9" fill="#fff" stroke="#505050" stroke-width="5.8"/>
<circle cx="1005.3" cy="1093.7" r="6.9" fill="#fff" stroke="#505050" stroke-width="5.8"/>
<circle cx="1027.1" cy="1096.1" r="6.9" fill="#fff" stroke="#505050" stroke-width="5.8"/>
<rect x="964.4" y="1094.1" width="13.8" height="13.8" rx="2.5" fill="#fff" stroke="#505050" stroke-width="5.6"/>
<circle cx="993.1" cy="1110.7" r="6.9" fill="#fff" stroke="#505050" stroke-width="5.8"/>
<rect x="1005.6" y="1100.1999999999998" width="13.8" height="13.8" rx="2.5" fill="#fff" stroke="#505050" stroke-width="5.6"/>
<circle cx="1038.0" cy="1105.8" r="6.9" fill="#fff" stroke="#505050" stroke-width="5.8"/>
<rect x="1056.6" y="1098.8999999999999" width="13.8" height="13.8" rx="2.5" fill="#fff" stroke="#505050" stroke-width="5.6"/>
<circle cx="1080.5" cy="1105.8" r="6.9" fill="#fff" stroke="#505050" stroke-width="5.8"/>
<circle cx="1068.4" cy="1114.3" r="6.9" fill="#fff" stroke="#505050" stroke-width="5.8"/>
<circle cx="951.8" cy="1093.7" r="6.9" fill="#fff" stroke="#505050" stroke-width="5.8"/>
<rect x="947.4" y="1106.1999999999998" width="13.8" height="13.8" rx="2.5" fill="#fff" stroke="#505050" stroke-width="5.6"/>
<rect x="818.7" y="1043.1" width="13.8" height="13.8" rx="2.5" fill="#fff" stroke="#505050" stroke-width="5.6"/>
<rect x="782.2" y="1024.8999999999999" width="13.8" height="13.8" rx="2.5" fill="#fff" stroke="#505050" stroke-width="5.6"/>
<circle cx="854.7" cy="1071.8" r="6.9" fill="#fff" stroke="#505050" stroke-width="5.8"/>
<circle cx="868.1" cy="1060.9" r="6.9" fill="#fff" stroke="#505050" stroke-width="5.8"/>
<rect x="903.7" y="1054.0" width="13.8" height="13.8" rx="2.5" fill="#fff" stroke="#505050" stroke-width="5.6"/>
<rect x="777.4" y="1074.6999999999998" width="13.8" height="13.8" rx="2.5" fill="#fff" stroke="#505050" stroke-width="5.6"/>
<circle cx="877.8" cy="1096.1" r="6.9" fill="#fff" stroke="#505050" stroke-width="5.8"/>
<circle cx="911.8" cy="1103.4" r="6.9" fill="#fff" stroke="#505050" stroke-width="5.8"/>
<circle cx="825.6" cy="1093.7" r="6.9" fill="#fff" stroke="#505050" stroke-width="5.8"/>
<circle cx="838.9" cy="1096.1" r="6.9" fill="#fff" stroke="#505050" stroke-width="5.8"/>
<rect x="810.2" y="1100.1999999999998" width="13.8" height="13.8" rx="2.5" fill="#fff" stroke="#505050" stroke-width="5.6"/>
<circle cx="792.8" cy="1109.5" r="6.9" fill="#fff" stroke="#505050" stroke-width="5.8"/>
<rect x="838.1" y="1112.3" width="13.8" height="13.8" rx="2.5" fill="#fff" stroke="#505050" stroke-width="5.6"/>
<circle cx="191.0" cy="1120.6" r="6.9" fill="#555" stroke="#505050" stroke-width="5.8"/>
<rect x="159.79999999999998" y="1147.6999999999998" width="13.8" height="13.8" rx="2.5" fill="#fff" stroke="#505050" stroke-width="5.6"/>
<circle cx="256.6" cy="1135.2" r="6.9" fill="#fff" stroke="#505050" stroke-width="5.8"/>
<rect x="203.5" y="1182.8999999999999" width="13.8" height="13.8" rx="2.5" fill="#fff" stroke="#505050" stroke-width="5.6"/>
<rect x="254.49999999999997" y="1187.8" width="13.8" height="13.8" rx="2.5" fill="#fff" stroke="#505050" stroke-width="5.6"/>
<rect x="278.8" y="1198.6999999999998" width="13.8" height="13.8" rx="2.5" fill="#fff" stroke="#505050" stroke-width="5.6"/>
<rect x="255.70000000000002" y="1242.3999999999999" width="13.8" height="13.8" rx="2.5" fill="#fff" stroke="#505050" stroke-width="5.6"/>
<circle cx="272.3" cy="1285.8" r="6.9" fill="#fff" stroke="#505050" stroke-width="5.8"/>
<circle cx="234.7" cy="1314.9" r="6.9" fill="#fff" stroke="#505050" stroke-width="5.8"/>
<rect x="356.5" y="1190.1999999999998" width="13.8" height="13.8" rx="2.5" fill="#fff" stroke="#505050" stroke-width="5.6"/>
<circle cx="398.6" cy="1192.3" r="6.9" fill="#fff" stroke="#505050" stroke-width="5.8"/>
<circle cx="354.9" cy="1216.6" r="6.9" fill="#fff" stroke="#505050" stroke-width="5.8"/>
<circle cx="382.8" cy="1226.3" r="6.9" fill="#fff" stroke="#505050" stroke-width="5.8"/>
<circle cx="385.3" cy="1229.9" r="6.9" fill="#fff" stroke="#505050" stroke-width="5.8"/>
<circle cx="354.9" cy="1257.8" r="6.9" fill="#fff" stroke="#505050" stroke-width="5.8"/>
<circle cx="347.6" cy="1266.3" r="6.9" fill="#fff" stroke="#505050" stroke-width="5.8"/>
<circle cx="341.6" cy="1271.2" r="6.9" fill="#fff" stroke="#505050" stroke-width="5.8"/>
<circle cx="437.5" cy="1146.1" r="6.9" fill="#fff" stroke="#505050" stroke-width="5.8"/>
<rect x="443.90000000000003" y="1115.0" width="13.8" height="13.8" rx="2.5" fill="#fff" stroke="#505050" stroke-width="5.6"/>
<circle cx="476.3" cy="1129.1" r="6.9" fill="#fff" stroke="#505050" stroke-width="5.8"/>
<circle cx="502.5" cy="1124.3" r="6.9" fill="#fff" stroke="#505050" stroke-width="5.8"/>
<circle cx="854.0" cy="1123.8" r="6.9" fill="#fff" stroke="#505050" stroke-width="5.8"/>
<rect x="944.9" y="1111.6" width="13.8" height="13.8" rx="2.5" fill="#fff" stroke="#505050" stroke-width="5.6"/>
<rect x="962.1" y="1139.3" width="13.8" height="13.8" rx="2.5" fill="#fff" stroke="#505050" stroke-width="5.6"/>
<rect x="943.6" y="1157.8" width="13.8" height="13.8" rx="2.5" fill="#fff" stroke="#505050" stroke-width="5.6"/>
<circle cx="933.3" cy="1179.3" r="6.9" fill="#fff" stroke="#505050" stroke-width="5.8"/>
<circle cx="975.6" cy="1162.1" r="6.9" fill="#fff" stroke="#505050" stroke-width="5.8"/>
<circle cx="992.7" cy="1168.7" r="6.9" fill="#fff" stroke="#505050" stroke-width="5.8"/>
<circle cx="1006.0" cy="1191.2" r="6.9" fill="#fff" stroke="#505050" stroke-width="5.8"/>
<circle cx="1031.1" cy="1155.5" r="6.9" fill="#fff" stroke="#505050" stroke-width="5.8"/>
<circle cx="1003.3" cy="1141.0" r="6.9" fill="#fff" stroke="#505050" stroke-width="5.8"/>
<circle cx="1050.9" cy="1139.6" r="6.9" fill="#fff" stroke="#505050" stroke-width="5.8"/>
<circle cx="1064.1" cy="1121.1" r="6.9" fill="#fff" stroke="#505050" stroke-width="5.8"/>
<circle cx="1099.8" cy="1123.8" r="6.9" fill="#fff" stroke="#505050" stroke-width="5.8"/>
<circle cx="1111.7" cy="1115.9" r="6.9" fill="#fff" stroke="#505050" stroke-width="5.8"/>
<circle cx="1107.7" cy="1134.4" r="6.9" fill="#fff" stroke="#505050" stroke-width="5.8"/>
<rect x="1131.1999999999998" y="1130.1" width="13.8" height="13.8" rx="2.5" fill="#fff" stroke="#505050" stroke-width="5.6"/>
<circle cx="1083.9" cy="1147.6" r="6.9" fill="#fff" stroke="#505050" stroke-width="5.8"/>
<circle cx="1099.8" cy="1152.9" r="6.9" fill="#fff" stroke="#505050" stroke-width="5.8"/>
<rect x="1077.0" y="1155.1999999999998" width="13.8" height="13.8" rx="2.5" fill="#fff" stroke="#505050" stroke-width="5.6"/>
<circle cx="1066.7" cy="1159.5" r="6.9" fill="#fff" stroke="#505050" stroke-width="5.8"/>
<circle cx="1102.4" cy="1163.4" r="6.9" fill="#fff" stroke="#505050" stroke-width="5.8"/>
<circle cx="1122.2" cy="1156.8" r="6.9" fill="#fff" stroke="#505050" stroke-width="5.8"/>
<circle cx="1126.2" cy="1166.1" r="6.9" fill="#fff" stroke="#505050" stroke-width="5.8"/>
<circle cx="1078.6" cy="1178.0" r="6.9" fill="#fff" stroke="#505050" stroke-width="5.8"/>
<circle cx="1090.5" cy="1181.9" r="6.9" fill="#fff" stroke="#505050" stroke-width="5.8"/>
<circle cx="1101.1" cy="1184.6" r="6.9" fill="#fff" stroke="#505050" stroke-width="5.8"/>
<circle cx="1114.3" cy="1181.9" r="6.9" fill="#fff" stroke="#505050" stroke-width="5.8"/>
<circle cx="1110.3" cy="1192.5" r="6.9" fill="#fff" stroke="#505050" stroke-width="5.8"/>
<circle cx="1086.6" cy="1195.1" r="6.9" fill="#fff" stroke="#505050" stroke-width="5.8"/>
<circle cx="1091.8" cy="1211.0" r="6.9" fill="#fff" stroke="#505050" stroke-width="5.8"/>
<circle cx="1044.3" cy="1207.0" r="6.9" fill="#fff" stroke="#505050" stroke-width="5.8"/>
<circle cx="1099.8" cy="1224.2" r="6.9" fill="#fff" stroke="#505050" stroke-width="5.8"/>
<circle cx="1076.0" cy="1228.2" r="6.9" fill="#fff" stroke="#505050" stroke-width="5.8"/>
<circle cx="1113.0" cy="1238.7" r="6.9" fill="#fff" stroke="#505050" stroke-width="5.8"/>
<circle cx="1136.8" cy="1224.2" r="6.9" fill="#fff" stroke="#505050" stroke-width="5.8"/>
<circle cx="1061.4" cy="1244.0" r="6.9" fill="#fff" stroke="#505050" stroke-width="5.8"/>
<circle cx="1078.6" cy="1249.3" r="6.9" fill="#fff" stroke="#505050" stroke-width="5.8"/>
<circle cx="1089.2" cy="1258.6" r="6.9" fill="#fff" stroke="#505050" stroke-width="5.8"/>
<rect x="1129.8999999999999" y="1254.3" width="13.8" height="13.8" rx="2.5" fill="#fff" stroke="#505050" stroke-width="5.6"/>
<rect x="1131.1999999999998" y="1267.5" width="13.8" height="13.8" rx="2.5" fill="#fff" stroke="#505050" stroke-width="5.6"/>
<circle cx="1097.1" cy="1279.7" r="6.9" fill="#fff" stroke="#505050" stroke-width="5.8"/>
<circle cx="1113.0" cy="1277.1" r="6.9" fill="#fff" stroke="#505050" stroke-width="5.8"/>
<circle cx="1076.0" cy="1303.5" r="6.9" fill="#fff" stroke="#505050" stroke-width="5.8"/>
<circle cx="1070.7" cy="1315.4" r="6.9" fill="#fff" stroke="#505050" stroke-width="5.8"/>
<circle cx="1024.5" cy="1311.4" r="6.9" fill="#fff" stroke="#505050" stroke-width="5.8"/>
<circle cx="1054.8" cy="1328.6" r="6.9" fill="#fff" stroke="#505050" stroke-width="5.8"/>
<circle cx="1094.5" cy="1337.8" r="6.9" fill="#fff" stroke="#505050" stroke-width="5.8"/>
<rect x="1058.5" y="1341.5" width="13.8" height="13.8" rx="2.5" fill="#fff" stroke="#505050" stroke-width="5.6"/>
<rect x="1069.1" y="1341.5" width="13.8" height="13.8" rx="2.5" fill="#fff" stroke="#505050" stroke-width="5.6"/>
<circle cx="1128.8" cy="1329.9" r="6.9" fill="#fff" stroke="#505050" stroke-width="5.8"/>
<circle cx="1135.4" cy="1339.2" r="6.9" fill="#fff" stroke="#505050" stroke-width="5.8"/>
<rect x="1129.8999999999999" y="1319.1" width="13.8" height="13.8" rx="2.5" fill="#fff" stroke="#505050" stroke-width="5.6"/>
<circle cx="1011.2" cy="1344.5" r="6.9" fill="#fff" stroke="#505050" stroke-width="5.8"/>
<circle cx="959.7" cy="1203.1" r="6.9" fill="#fff" stroke="#505050" stroke-width="5.8"/>
<circle cx="951.8" cy="1211.0" r="6.9" fill="#fff" stroke="#505050" stroke-width="5.8"/>
<circle cx="961.0" cy="1230.8" r="6.9" fill="#fff" stroke="#505050" stroke-width="5.8"/>
<circle cx="951.8" cy="1237.4" r="6.9" fill="#fff" stroke="#505050" stroke-width="5.8"/>
<circle cx="1000.7" cy="1222.9" r="6.9" fill="#fff" stroke="#505050" stroke-width="5.8"/>
<rect x="872.2" y="1229.1999999999998" width="13.8" height="13.8" rx="2.5" fill="#fff" stroke="#505050" stroke-width="5.6"/>
<circle cx="901.6" cy="1236.1" r="6.9" fill="#fff" stroke="#505050" stroke-width="5.8"/>
<rect x="918.4" y="1264.8999999999999" width="13.8" height="13.8" rx="2.5" fill="#fff" stroke="#505050" stroke-width="5.6"/>
<circle cx="959.7" cy="1274.4" r="6.9" fill="#fff" stroke="#505050" stroke-width="5.8"/>
<circle cx="1012.6" cy="1362.5" r="6.9" fill="#fff" stroke="#505050" stroke-width="5.8"/>
<circle cx="1040.3" cy="1365.1" r="6.9" fill="#fff" stroke="#505050" stroke-width="5.8"/>
<circle cx="1027.1" cy="1374.4" r="6.9" fill="#fff" stroke="#505050" stroke-width="5.8"/>
<rect x="1020.1999999999999" y="1391.1999999999998" width="13.8" height="13.8" rx="2.5" fill="#fff" stroke="#505050" stroke-width="5.6"/>
<circle cx="1061.4" cy="1390.2" r="6.9" fill="#fff" stroke="#505050" stroke-width="5.8"/>
<circle cx="1077.3" cy="1383.6" r="6.9" fill="#fff" stroke="#505050" stroke-width="5.8"/>
<circle cx="1053.5" cy="1403.4" r="6.9" fill="#fff" stroke="#505050" stroke-width="5.8"/>
<circle cx="1065.4" cy="1404.7" r="6.9" fill="#fff" stroke="#505050" stroke-width="5.8"/>
<circle cx="1070.7" cy="1416.6" r="6.9" fill="#fff" stroke="#505050" stroke-width="5.8"/>
<circle cx="1066.7" cy="1433.8" r="6.9" fill="#fff" stroke="#505050" stroke-width="5.8"/>
<circle cx="1105.1" cy="1386.2" r="6.9" fill="#fff" stroke="#505050" stroke-width="5.8"/>
<circle cx="1091.8" cy="1400.8" r="6.9" fill="#fff" stroke="#505050" stroke-width="5.8"/>
<circle cx="1105.1" cy="1400.8" r="6.9" fill="#fff" stroke="#505050" stroke-width="5.8"/>
<circle cx="1115.6" cy="1418.0" r="6.9" fill="#fff" stroke="#505050" stroke-width="5.8"/>
<circle cx="1126.2" cy="1373.0" r="6.9" fill="#fff" stroke="#505050" stroke-width="5.8"/>
<circle cx="1118.3" cy="1444.4" r="6.9" fill="#fff" stroke="#505050" stroke-width="5.8"/>
<circle cx="1136.8" cy="1440.4" r="6.9" fill="#fff" stroke="#505050" stroke-width="5.8"/>
<rect x="1129.8999999999999" y="1454.6999999999998" width="13.8" height="13.8" rx="2.5" fill="#fff" stroke="#505050" stroke-width="5.6"/>
<rect x="1090.1999999999998" y="1463.8999999999999" width="13.8" height="13.8" rx="2.5" fill="#fff" stroke="#505050" stroke-width="5.6"/>
<rect x="1078.3" y="1478.3999999999999" width="13.8" height="13.8" rx="2.5" fill="#fff" stroke="#505050" stroke-width="5.6"/>
<rect x="1129.8999999999999" y="1494.3" width="13.8" height="13.8" rx="2.5" fill="#fff" stroke="#505050" stroke-width="5.6"/>
<rect x="1103.3999999999999" y="1519.3999999999999" width="13.8" height="13.8" rx="2.5" fill="#fff" stroke="#505050" stroke-width="5.6"/>
<circle cx="1115.6" cy="1532.9" r="6.9" fill="#fff" stroke="#505050" stroke-width="5.8"/>
<circle cx="1134.1" cy="1560.7" r="6.9" fill="#fff" stroke="#505050" stroke-width="5.8"/>
<circle cx="1136.8" cy="1571.2" r="6.9" fill="#fff" stroke="#505050" stroke-width="5.8"/>
<circle cx="144.5" cy="1551" r="6.9" fill="#fff" stroke="#505050" stroke-width="5.8"/>
<path d="M514.1,928.8 L523.1,945.8 L505.1,945.8 Z" fill="#151515" stroke="#151515" stroke-width="2.6" stroke-linejoin="round"/>
<path d="M696.2,951.9 L705.2,968.9 L687.2,968.9 Z" fill="#151515" stroke="#151515" stroke-width="2.6" stroke-linejoin="round"/>
<path d="M866.8,978.6 L875.8,995.6 L857.8,995.6 Z" fill="#151515" stroke="#151515" stroke-width="2.6" stroke-linejoin="round"/>
<path d="M938.5,1042.9 L947.5,1059.9 L929.5,1059.9 Z" fill="#151515" stroke="#151515" stroke-width="2.6" stroke-linejoin="round"/>
<path d="M285.7,1147.6 L294.7,1164.6 L276.7,1164.6 Z" fill="#151515" stroke="#151515" stroke-width="2.6" stroke-linejoin="round"/>
<path d="M430.2,1141.5 L439.2,1158.5 L421.2,1158.5 Z" fill="#151515" stroke="#151515" stroke-width="2.6" stroke-linejoin="round"/>
<path d="M971.6,1283.4 L980.6,1300.4 L962.6,1300.4 Z" fill="#151515" stroke="#151515" stroke-width="2.6" stroke-linejoin="round"/>
<path d="M144.9,1298.4 L153.2,1287.9 L161.5,1277.6 L169.9,1267.4 L178.2,1257.5 L186.5,1247.8 L194.8,1238.2 L203.2,1228.8 L211.5,1219.7 L219.8,1210.7 L228.1,1201.8 L236.5,1193.2 L244.8,1184.8 L253.1,1176.5 L261.4,1168.4 L269.8,1160.5 L278.1,1152.8 L286.4,1145.3 L294.7,1137.9 L303.0,1130.7 L311.4,1123.7 L319.7,1116.9 L328.0,1110.2 L336.3,1103.8 L344.7,1097.5 L353.0,1091.3 L361.3,1085.4 L369.6,1079.6 L378.0,1074.0 L386.3,1068.6 L394.6,1063.3 L402.9,1058.2 L411.3,1053.3 L419.6,1048.6 L427.9,1044.0 L436.2,1039.6 L444.5,1035.4 L452.9,1031.4 L461.2,1027.5 L469.5,1023.8 L477.8,1020.2 L486.2,1016.8 L494.5,1013.6 L502.8,1010.6 L511.1,1007.8 L519.5,1005.1 L527.8,1002.5 L536.1,1000.2 L544.4,998.0 L552.8,996.0 L561.1,994.1 L569.4,992.4 L577.7,990.9 L586.0,989.6 L594.4,988.4 L602.7,987.4 L611.0,986.6 L619.3,985.9 L627.7,985.4 L636.0,985.1 L644.3,984.9 L652.6,984.9 L661.0,985.1 L669.3,985.5 L677.6,986.0 L685.9,986.7 L694.3,987.5 L702.6,988.6 L710.9,989.8 L719.2,991.2 L727.5,992.7 L735.9,994.4 L744.2,996.3 L752.5,998.4 L760.8,1000.6 L769.2,1003.0 L777.5,1005.6 L785.8,1008.4 L794.1,1011.3 L802.5,1014.4 L810.8,1017.7 L819.1,1021.1 L827.4,1024.8 L835.8,1028.6 L844.1,1032.6 L852.4,1036.8 L860.7,1041.1 L869.0,1045.6 L877.4,1050.3 L885.7,1055.2 L894.0,1060.3 L902.3,1065.6 L910.7,1071.0 L919.0,1076.6 L927.3,1082.4 L935.6,1088.4 L944.0,1094.6 L952.3,1100.9 L960.6,1107.5 L968.9,1114.2 L977.3,1121.2 L985.6,1128.3 L993.9,1135.6 L1002.2,1143.1 L1010.5,1150.8 L1018.9,1158.7 L1027.2,1166.7 L1035.5,1175.0 L1043.8,1183.5 L1052.2,1192.1 L1060.5,1201.0 L1068.8,1210.1 L1077.1,1219.3 L1085.5,1228.8 L1093.8,1238.5 L1102.1,1248.4 L1110.4,1258.4 L1118.8,1268.7 L1127.1,1279.2 L1135.4,1289.9" fill="none" stroke="#1c1c1c" stroke-width="5.2"/>
<path d="M144.9,1158.6 L153.2,1151.9 L161.6,1145.2 L169.9,1138.7 L178.2,1132.2 L186.6,1125.9 L194.9,1119.8 L203.3,1113.7 L211.6,1107.7 L219.9,1101.9 L228.3,1096.2 L236.6,1090.6 L244.9,1085.1 L253.3,1079.8 L261.6,1074.6 L270.0,1069.5 L278.3,1064.5 L286.6,1059.7 L295.0,1055.0 L303.3,1050.4 L311.6,1045.9 L320.0,1041.6 L328.3,1037.4 L336.7,1033.3 L345.0,1029.4 L353.3,1025.6 L361.7,1021.9 L370.0,1018.4 L378.3,1014.9 L386.7,1011.7 L395.0,1008.5 L403.3,1005.5 L411.7,1002.7 L420.0,999.9 L428.4,997.3 L436.7,994.9 L445.0,992.6 L453.4,990.4 L461.7,988.3 L470.0,986.4 L478.4,984.7 L486.7,983.0 L495.1,981.5 L503.4,980.2 L511.7,979.0 L520.1,977.9 L528.4,977.0 L536.7,976.2 L545.1,975.6 L553.4,975.1 L561.7,974.7 L570.1,974.5 L578.4,974.5 L586.8,974.6 L595.1,974.8 L603.4,975.1 L611.8,975.6 L620.1,976.3 L628.4,977.1 L636.8,978.0 L645.1,979.1 L653.5,980.4 L661.8,981.7 L670.1,983.3 L678.5,984.9 L686.8,986.7 L695.1,988.7 L703.5,990.8 L711.8,993.1 L720.2,995.5 L728.5,998.0 L736.8,1000.7 L745.2,1003.5 L753.5,1006.5 L761.8,1009.6 L770.2,1012.9 L778.5,1016.3 L786.8,1019.8 L795.2,1023.5 L803.5,1027.4 L811.9,1031.4 L820.2,1035.5 L828.5,1039.8 L836.9,1044.2 L845.2,1048.8 L853.5,1053.5 L861.9,1058.4 L870.2,1063.4 L878.6,1068.5 L886.9,1073.8 L895.2,1079.2 L903.6,1084.8 L911.9,1090.5 L920.2,1096.4 L928.6,1102.4 L936.9,1108.5 L945.2,1114.8 L953.6,1121.2 L961.9,1127.8 L970.3,1134.5 L978.6,1141.3 L986.9,1148.3 L995.3,1155.4 L1003.6,1162.6 L1011.9,1170.0 L1020.3,1177.5 L1028.6,1185.2 L1037.0,1193.0 L1045.3,1200.9 L1053.6,1209.0 L1062.0,1217.2 L1070.3,1225.5 L1078.6,1234.0 L1087.0,1242.6 L1095.3,1251.4 L1103.7,1260.2 L1112.0,1269.2 L1120.3,1278.3 L1128.7,1287.6 L1137.0,1297.0" fill="none" stroke="#1c1c1c" stroke-width="5.2" stroke-dasharray="37.5 18.3" stroke-dashoffset="2.35"/>
<line x1="133.5" y1="1570.0" x2="144.5" y2="1570.0" stroke="#5e5e5e" stroke-width="2.6"/>
<text x="118.0" y="1585.4" font-size="36" font-weight="bold" text-anchor="end" fill="#4a4a4a" textLength="64.2" lengthAdjust="spacingAndGlyphs">0,00</text>
<line x1="133.5" y1="1482.7" x2="144.5" y2="1482.7" stroke="#5e5e5e" stroke-width="2.6"/>
<text x="118.0" y="1498.1" font-size="36" font-weight="bold" text-anchor="end" fill="#4a4a4a" textLength="64.2" lengthAdjust="spacingAndGlyphs">0,10</text>
<line x1="133.5" y1="1395.4" x2="144.5" y2="1395.4" stroke="#5e5e5e" stroke-width="2.6"/>
<text x="118.0" y="1410.8" font-size="36" font-weight="bold" text-anchor="end" fill="#4a4a4a" textLength="64.2" lengthAdjust="spacingAndGlyphs">0,20</text>
<line x1="133.5" y1="1308.1" x2="144.5" y2="1308.1" stroke="#5e5e5e" stroke-width="2.6"/>
<text x="118.0" y="1323.5" font-size="36" font-weight="bold" text-anchor="end" fill="#4a4a4a" textLength="64.2" lengthAdjust="spacingAndGlyphs">0,30</text>
<line x1="133.5" y1="1220.8" x2="144.5" y2="1220.8" stroke="#5e5e5e" stroke-width="2.6"/>
<text x="118.0" y="1236.2" font-size="36" font-weight="bold" text-anchor="end" fill="#4a4a4a" textLength="64.2" lengthAdjust="spacingAndGlyphs">0,40</text>
<line x1="133.5" y1="1133.5" x2="144.5" y2="1133.5" stroke="#5e5e5e" stroke-width="2.6"/>
<text x="118.0" y="1148.9" font-size="36" font-weight="bold" text-anchor="end" fill="#4a4a4a" textLength="64.2" lengthAdjust="spacingAndGlyphs">0,50</text>
<line x1="133.5" y1="1046.2" x2="144.5" y2="1046.2" stroke="#5e5e5e" stroke-width="2.6"/>
<text x="118.0" y="1061.6" font-size="36" font-weight="bold" text-anchor="end" fill="#4a4a4a" textLength="64.2" lengthAdjust="spacingAndGlyphs">0,60</text>
<line x1="133.5" y1="958.9" x2="144.5" y2="958.9" stroke="#5e5e5e" stroke-width="2.6"/>
<text x="118.0" y="974.3" font-size="36" font-weight="bold" text-anchor="end" fill="#4a4a4a" textLength="64.2" lengthAdjust="spacingAndGlyphs">0,70</text>
<line x1="133.5" y1="871.6" x2="144.5" y2="871.6" stroke="#5e5e5e" stroke-width="2.6"/>
<text x="118.0" y="887.0" font-size="36" font-weight="bold" text-anchor="end" fill="#4a4a4a" textLength="64.2" lengthAdjust="spacingAndGlyphs">0,80</text>
<line x1="144.5" y1="1570" x2="144.5" y2="1576" stroke="#5e5e5e" stroke-width="2.6"/>
<text x="144.5" y="1621.6" font-size="33" font-weight="bold" text-anchor="middle" fill="#4a4a4a" textLength="17.8" lengthAdjust="spacingAndGlyphs">0</text>
<line x1="343.1" y1="1570" x2="343.1" y2="1576" stroke="#5e5e5e" stroke-width="2.6"/>
<text x="343.1" y="1621.6" font-size="33" font-weight="bold" text-anchor="middle" fill="#4a4a4a" textLength="35.6" lengthAdjust="spacingAndGlyphs">20</text>
<line x1="541.7" y1="1570" x2="541.7" y2="1576" stroke="#5e5e5e" stroke-width="2.6"/>
<text x="541.7" y="1621.6" font-size="33" font-weight="bold" text-anchor="middle" fill="#4a4a4a" textLength="35.6" lengthAdjust="spacingAndGlyphs">40</text>
<line x1="740.3" y1="1570" x2="740.3" y2="1576" stroke="#5e5e5e" stroke-width="2.6"/>
<text x="740.3" y="1621.6" font-size="33" font-weight="bold" text-anchor="middle" fill="#4a4a4a" textLength="35.6" lengthAdjust="spacingAndGlyphs">60</text>
<line x1="938.9" y1="1570" x2="938.9" y2="1576" stroke="#5e5e5e" stroke-width="2.6"/>
<text x="938.9" y="1621.6" font-size="33" font-weight="bold" text-anchor="middle" fill="#4a4a4a" textLength="35.6" lengthAdjust="spacingAndGlyphs">80</text>
<line x1="1137.5" y1="1570" x2="1137.5" y2="1576" stroke="#5e5e5e" stroke-width="2.6"/>
<text x="1137.5" y="1621.6" font-size="33" font-weight="bold" text-anchor="middle" fill="#4a4a4a" textLength="53.4" lengthAdjust="spacingAndGlyphs">100</text>
<text x="652.0" y="1674.5" font-size="38.5" font-weight="bold" text-anchor="middle" fill="#262626" textLength="207.6" lengthAdjust="spacingAndGlyphs">GFTfast (%)</text>
<text transform="translate(34,1230.7) rotate(-90)" x="0" y="0" font-size="39.5" font-weight="bold" text-anchor="middle" fill="#161616" textLength="137" lengthAdjust="spacingAndGlyphs">S index</text>
<text x="174.5" y="961.5" font-size="50" fill="#2a2a2a" font-style="italic" stroke="#2a2a2a" stroke-width="0.7">r</text>
<text x="197.5" y="949.5" font-size="34" fill="#2a2a2a" textLength="17.8" lengthAdjust="spacingAndGlyphs" stroke="#2a2a2a" stroke-width="0.5">2</text>
<text x="216.0" y="961.5" font-size="50" fill="#2a2a2a" textLength="114.6" lengthAdjust="spacingAndGlyphs" stroke="#2a2a2a" stroke-width="0.5">=0,55</text>
<text x="174.5" y="1455.5" font-size="50" fill="#2a2a2a" font-style="italic" stroke="#2a2a2a" stroke-width="0.7">r</text>
<text x="197.5" y="1443.5" font-size="34" fill="#2a2a2a" textLength="17.8" lengthAdjust="spacingAndGlyphs" stroke="#2a2a2a" stroke-width="0.5">2</text>
<text x="216.0" y="1455.5" font-size="50" fill="#2a2a2a" textLength="114.6" lengthAdjust="spacingAndGlyphs" stroke="#2a2a2a" stroke-width="0.5">=0.45</text>
</g>
<text x="7.0" y="47.9" font-size="38.5" fill="#0c0c0c">(a)</text>
<text x="1.0" y="898.8" font-size="38.5" fill="#0c0c0c">(b)</text>
</svg></body></html>
